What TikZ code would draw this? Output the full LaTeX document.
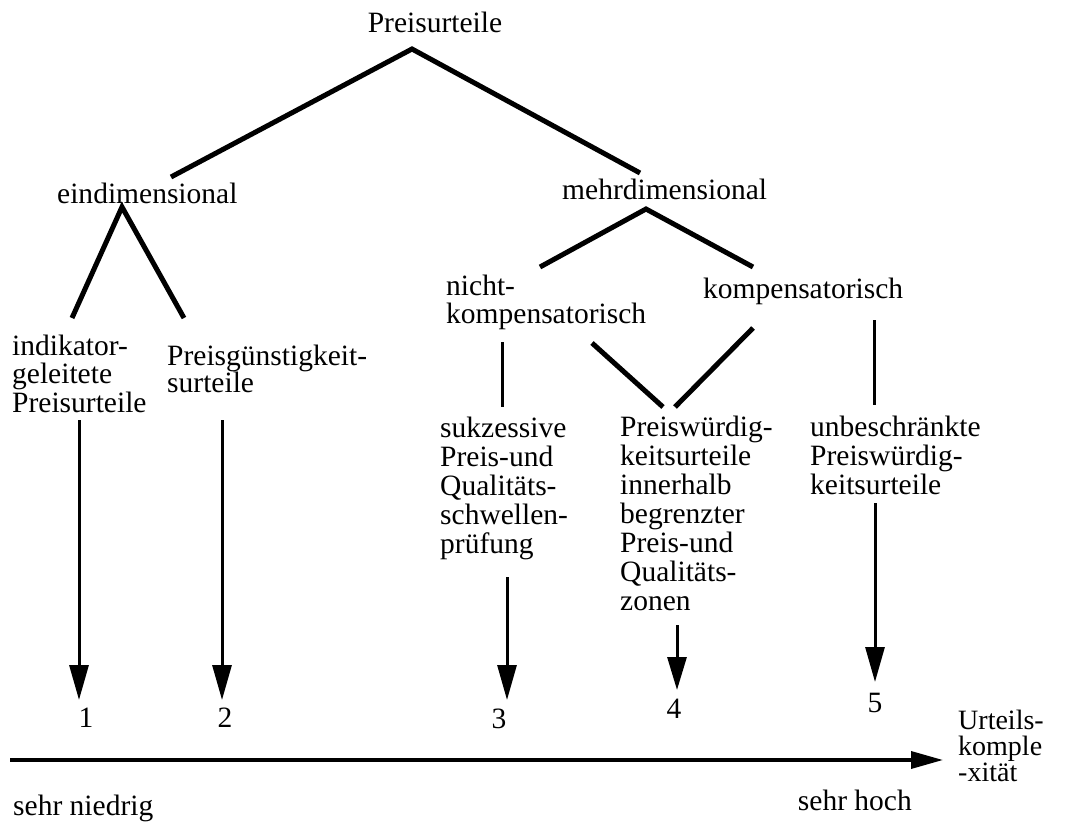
\documentclass[tikz,border=0pt]{standalone}
\usepackage{fontspec}
\setmainfont{Liberation Serif}
\usetikzlibrary{arrows.meta}
\begin{document}
\begin{tikzpicture}[x=1pt,y=-1pt,
  lbl/.style={inner sep=0pt, font=\fontsize{29.5}{29}\selectfont, align=left, anchor=base west},
  num/.style={inner sep=0pt, font=\fontsize{29.5}{29}\selectfont, anchor=base},
  tree/.style={line width=5pt},
  thinline/.style={line width=3pt},
  arr/.style={line width=3pt, -{Triangle[length=35pt,width=19pt]}},
  arrshort/.style={line width=3pt, -{Triangle[length=33pt,width=19pt]}},
  axis/.style={line width=3.5pt, -{Triangle[length=32pt,width=17pt]}}
]
\useasboundingbox (0,0) rectangle (1067,829);

% texts (multi-line nodes are placed by the baseline of their last line)
\node[num] (pu) at (435,33) {Preisurteile};
\node[lbl] (ein) at (57,203) {eindimensional};
\node[lbl] (mehr) at (562,200) {mehrdimensional};
\node[lbl, font=\fontsize{29.5}{28}\selectfont] (nicht) at (446,323) {nicht-\\kompensatorisch};
\node[lbl] (komp) at (703,298) {kompensatorisch};
\node[lbl, font=\fontsize{29.5}{28.5}\selectfont] (ind) at (12,412) {indikator-\\geleitete\\Preisurteile};
\node[lbl, font=\fontsize{29.5}{27}\selectfont] (pg) at (167,392) {Preisgünstigkeit-\\surteile};
\node[lbl] (suk) at (440,553) {sukzessive\\Preis-und\\Qualitäts-\\schwellen-\\prüfung};
\node[lbl] (pw) at (620,610) {Preiswürdig-\\keitsurteile\\innerhalb\\begrenzter\\Preis-und\\Qualitäts-\\zonen};
\node[lbl] (unb) at (810,494) {unbeschränkte\\Preiswürdig-\\keitsurteile};
\node[lbl, font=\fontsize{28}{26}\selectfont] (urt) at (958,781) {Urteils-\\komple\\-xität};
\node[num] (n1) at (86,727) {1};
\node[num] (n2) at (225,727) {2};
\node[num] (n3) at (499,728) {3};
\node[num] (n4) at (674,718) {4};
\node[num] (n5) at (875,712) {5};
\node[lbl] (sn) at (13,815) {sehr niedrig};
\node[lbl, anchor=base east] (sh) at (912,810) {sehr hoch};

% connector end points
\coordinate (pu-apex) at (412,49);
\coordinate (ein-top) at (171,177);
\coordinate (mehr-top) at (640,173);
\coordinate (ein-apex) at (122,207);
\coordinate (ind-top) at (72,318);
\coordinate (pg-top) at (184,318);
\coordinate (mehr-apex) at (646,209);
\coordinate (nicht-top) at (540,267);
\coordinate (komp-top) at (753,267);
\coordinate (nicht-low) at (592,343);
\coordinate (pw-top1) at (663,407);
\coordinate (komp-low) at (753,328);
\coordinate (pw-top2) at (675,407);
\coordinate (nicht-v1) at (502,342);
\coordinate (suk-top) at (502,407);
\coordinate (komp-v1) at (874,320);
\coordinate (unb-top) at (874,405);
\coordinate (ind-bot) at (79,420);
\coordinate (pg-bot) at (222,420);
\coordinate (suk-bot) at (507,577);
\coordinate (pw-bot) at (677,625);
\coordinate (unb-bot) at (875,503);
\coordinate (t1) at (79,700);
\coordinate (t2) at (222,700);
\coordinate (t3) at (507,700);
\coordinate (t4) at (677,690);
\coordinate (t5) at (875,682);
\coordinate (ax-start) at (10,760);
\coordinate (ax-end) at (943,760);

% tree
\draw[tree] (ein-top) -- (pu-apex) -- (mehr-top);
\draw[tree] (ind-top) -- (ein-apex) -- (pg-top);
\draw[tree] (nicht-top) -- (mehr-apex) -- (komp-top);
\draw[tree] (nicht-low) -- (pw-top1);
\draw[tree] (komp-low) -- (pw-top2);
\draw[thinline] (nicht-v1) -- (suk-top);
\draw[thinline] (komp-v1) -- (unb-top);

% arrows
\draw[arr] (ind-bot) -- (t1);
\draw[arr] (pg-bot) -- (t2);
\draw[arr] (suk-bot) -- (t3);
\draw[arrshort] (pw-bot) -- (t4);
\draw[arr] (unb-bot) -- (t5);
\draw[axis] (ax-start) -- (ax-end);
\end{tikzpicture}
\end{document}
